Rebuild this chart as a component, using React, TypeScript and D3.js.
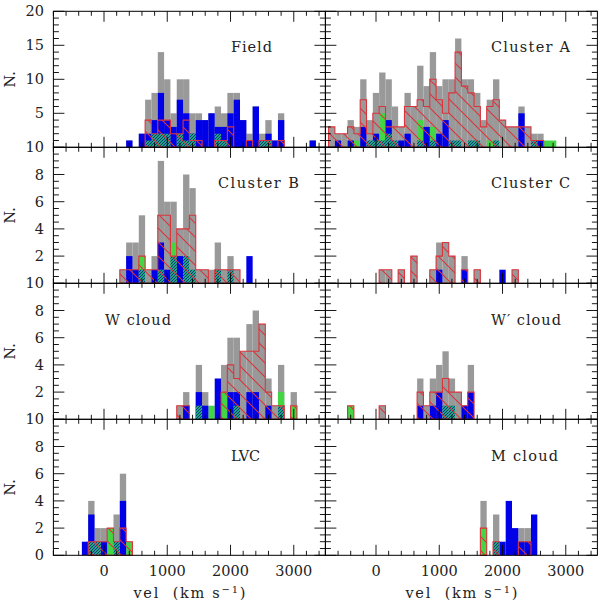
import React from "react";
import * as d3 from "d3";

type Bins = [number, number][];

const panelTitles = ["Field", "Cluster A", "Cluster B", "Cluster C", "W cloud", "W′ cloud", "LVC", "M cloud"];

const fieldGray: Bins = [[400,1],[600,2],[700,7],[800,8],[900,14],[1000,10],[1100,5],[1200,10],[1300,10],[1400,5],[1500,5],[1600,4],[1700,5],[1800,6],[1900,5],[2000,8],[2100,8],[2200,4],[2300,2],[2400,6],[2500,2],[2600,4],[2700,1],[2800,5],[3300,1]];
const fieldBlue: Bins = [[400,1],[600,2],[700,2],[800,4],[900,8],[1000,4],[1100,3],[1200,7],[1300,5],[1400,2],[1500,4],[1600,4],[1700,5],[1800,3],[1900,3],[2000,5],[2100,7],[2200,4],[2300,1],[2400,6],[2500,1],[2600,2],[2700,1],[2800,4],[3300,1]];
const fieldGreen: Bins = [[2100,1]];
const fieldTeal: Bins = [[700,1],[800,2],[900,2],[1000,2],[1200,2],[1300,1],[1400,2],[1800,2],[1900,1],[2500,1],[2600,1]];
const fieldRed: Bins = [[700,4],[800,2],[900,4],[1000,4],[1100,2],[1200,2],[1300,4],[1400,1],[1500,1],[1800,1],[1900,1],[2000,3],[2300,1],[2500,1],[2600,1],[2800,1]];

const clusterAGray: Bins = [[-700,3],[-600,2],[-500,2],[-400,4],[-300,3],[-200,10],[-100,4],[0,8],[100,11],[200,10],[300,6],[400,3],[500,8],[600,6],[700,12],[800,9],[900,14],[1000,9],[1100,10],[1200,10],[1300,16],[1400,10],[1500,10],[1600,8],[1700,4],[1800,7],[1900,10],[2000,4],[2100,3],[2200,3],[2300,6],[2400,3],[2500,2],[2600,2]];
const clusterABlue: Bins = [[-600,1],[-400,1],[-200,3],[0,2],[200,4],[400,1],[500,2],[800,3],[1000,2],[1100,4],[2300,5],[2600,1]];
const clusterAGreen: Bins = [[-300,1],[100,5],[700,4],[900,3],[1800,1],[2700,1],[2800,1]];
const clusterATeal: Bins = [[-100,1],[0,1],[100,1],[200,2],[300,1],[700,1],[900,1],[1200,1],[1300,1],[1500,1],[1600,1],[1900,1],[2500,1]];
const clusterARed: Bins = [[-700,3],[-600,2],[-500,2],[-400,3],[-300,2],[-200,7],[-100,2],[0,5],[100,6],[200,3],[300,3],[400,3],[500,6],[600,6],[700,7],[800,6],[900,10],[1000,7],[1100,5],[1200,8],[1300,14],[1400,9],[1500,8],[1600,6],[1700,3],[1800,6],[1900,7],[2000,4],[2100,3],[2200,3],[2300,3],[2400,3],[2500,1],[2600,1]];

const clusterBGray: Bins = [[300,1],[400,3],[500,3],[600,5],[700,1],[800,2],[900,9],[1000,6],[1100,6],[1200,4],[1300,8],[1400,7],[1500,1],[1600,1],[1700,1],[1800,3],[1900,1],[2000,2],[2100,1]];
const clusterBBlue: Bins = [[400,2],[500,1],[800,1],[900,3],[1000,1],[1200,2],[2300,2]];
const clusterBGreen: Bins = [[600,2],[1100,3]];
const clusterBTeal: Bins = [[600,1],[900,1],[1100,2],[1300,2],[1400,1],[1800,1],[2000,1]];
const clusterBRed: Bins = [[300,1],[400,1],[500,1],[600,2],[700,1],[800,1],[900,5],[1000,5],[1100,2],[1200,4],[1300,4],[1400,5],[1500,1],[1600,1],[1800,1],[1900,1],[2000,1],[2100,1]];

const clusterCGray: Bins = [[100,1],[200,1],[400,1],[600,2],[900,1],[1000,3],[1100,3],[1200,2],[1400,2],[1600,1],[2200,1]];
const clusterCBlue: Bins = [[1000,1],[1400,1],[2000,1]];
const clusterCGreen: Bins = [];
const clusterCTeal: Bins = [];
const clusterCRed: Bins = [[100,1],[200,1],[400,1],[600,2],[900,1],[1000,2],[1100,3],[1200,2],[1400,1],[1600,1],[2200,1]];

const wGray: Bins = [[1200,1],[1300,2],[1500,4],[1600,2],[1900,4],[2000,6],[2100,6],[2200,5],[2300,7],[2400,8],[2500,7],[2600,3],[2700,1],[2800,4],[3000,2]];
const wBlue: Bins = [[1300,1],[1500,2],[1600,1],[1800,3],[2000,2],[2100,2],[2300,2],[2400,2],[2600,1]];
const wGreen: Bins = [[1700,1],[1900,2],[2800,2],[3000,1]];
const wTeal: Bins = [[1500,1],[2100,1],[2800,1]];
const wRed: Bins = [[1200,1],[1300,1],[1900,2],[2000,4],[2100,3],[2200,5],[2300,5],[2400,5],[2500,7],[2600,2],[2700,1],[2800,1],[3000,1]];

const wPrimeGray: Bins = [[100,1],[700,3],[800,1],[900,3],[1000,4],[1100,5],[1200,3],[1300,2],[1400,1],[1500,4]];
const wPrimeBlue: Bins = [[700,1],[900,1],[1000,2],[1400,1],[1500,2]];
const wPrimeGreen: Bins = [[-400,1]];
const wPrimeTeal: Bins = [[1100,1],[1200,1]];
const wPrimeRed: Bins = [[-400,1],[100,1],[700,2],[800,1],[900,2],[1000,2],[1100,3],[1200,2],[1300,2],[1400,1],[1500,2]];

const lvcGray: Bins = [[-200,4],[-100,2],[0,2],[200,3],[300,6]];
const lvcBlue: Bins = [[-300,1],[-200,3],[0,1],[300,4]];
const lvcGreen: Bins = [[100,2],[400,1]];
const lvcTeal: Bins = [[-200,1],[-100,1],[200,1]];
const lvcRed: Bins = [[-200,1],[-100,1],[0,1],[100,2],[200,1],[300,2],[400,1]];

const mGray: Bins = [[1700,4],[1900,3],[2300,2],[2400,2]];
const mBlue: Bins = [[2000,1],[2100,4],[2200,2],[2300,1],[2400,1],[2500,3]];
const mGreen: Bins = [[1700,2]];
const mTeal: Bins = [[1900,1]];
const mRed: Bins = [[1700,2],[1900,1],[2300,1],[2400,1]];

const grays = [fieldGray, clusterAGray, clusterBGray, clusterCGray, wGray, wPrimeGray, lvcGray, mGray];
const blues = [fieldBlue, clusterABlue, clusterBBlue, clusterCBlue, wBlue, wPrimeBlue, lvcBlue, mBlue];
const greens = [fieldGreen, clusterAGreen, clusterBGreen, clusterCGreen, wGreen, wPrimeGreen, lvcGreen, mGreen];
const teals = [fieldTeal, clusterATeal, clusterBTeal, clusterCTeal, wTeal, wPrimeTeal, lvcTeal, mTeal];
const reds = [fieldRed, clusterARed, clusterBRed, clusterCRed, wRed, wPrimeRed, lvcRed, mRed];

const binWidth = 100;
const velDomain: [number, number] = [-800, 3500];
const colLeft = [53.4, 325.4];
const colWidth = 272;
const rowBottom = [147.3, 283.3, 419.3, 555.3];
const rowHeight = 136;
const titleBox: [number, number, number][] = [
  [231, 52, 41], [491, 52, 79], [218, 188, 81], [491, 188, 79],
  [105, 325, 66], [491, 325, 70], [231, 461, 29], [491, 461, 67],
];
const FONT = "'DejaVu Serif', serif";
const FS = 14.5;
const INK = "#222";

function Panel({ index }: { index: number }) {
  const col = index % 2;
  const row = Math.floor(index / 2);
  const left = colLeft[col];
  const bottom = rowBottom[row];
  const top = bottom - rowHeight;
  const right = left + colWidth;
  const x = d3.scaleLinear().domain(velDomain).range([left, right]);
  const y = d3.scaleLinear().domain([0, row === 0 ? 20 : 10]).range([bottom, top]);
  const yMajor = d3.range(0, (row === 0 ? 20 : 10) + 1, row === 0 ? 5 : 2);
  const yMinor = d3.range(0, (row === 0 ? 20 : 10) + 0.01, row === 0 ? 1 : 0.5);
  const xMinor = d3.range(-800, 3500, 200);
  const xMajor = xMinor.filter((v) => v % 1000 === 0);

  const rects = (bins: Bins, fill: string) =>
    bins.map(([c, n]) => (
      <rect key={c} x={x(c - binWidth / 2)} width={x(binWidth) - x(0)} y={y(n)} height={y(0) - y(n)} fill={fill} />
    ));

  const edgePoints = d3.range(-800, 3500, binWidth).flatMap((c) => {
    const found = reds[index].find((b) => b[0] === c);
    const n = found ? found[1] : 0;
    return [
      { v: c - binWidth / 2, n },
      { v: c + binWidth / 2, n },
    ];
  });
  const redArea = d3
    .area<{ v: number; n: number }>()
    .defined((d) => d.n > 0)
    .x((d) => x(d.v))
    .y0(y(0))
    .y1((d) => y(d.n));

  const [tx, ty, tw] = titleBox[index];
  return (
    <g>
      {rects(grays[index], "#999999")}
      {rects(greens[index], "#44d544")}
      {rects(blues[index], "#0000e8")}
      {rects(teals[index], "url(#tealHatch)")}
      <path d={redArea(edgePoints) ?? ""} fill="url(#redHatch)" stroke="#d9343c" strokeWidth={1.1} />
      <rect x={left} y={top} width={colWidth} height={rowHeight} fill="none" stroke="#000" strokeWidth={1} />
      {xMinor.map((v) => {
        const len = xMajor.includes(v) ? 10.5 : 4.5;
        return (
          <g key={v} stroke="#000" strokeWidth={0.9}>
            <line x1={x(v)} x2={x(v)} y1={bottom} y2={bottom - len} />
            <line x1={x(v)} x2={x(v)} y1={top} y2={top + len} />
          </g>
        );
      })}
      {yMinor.map((v) => {
        const len = yMajor.includes(v) ? 11 : 5.5;
        return (
          <g key={v} stroke="#000" strokeWidth={0.9}>
            <line x1={left} x2={left + len} y1={y(v)} y2={y(v)} />
            <line x1={right} x2={right - len} y1={y(v)} y2={y(v)} />
          </g>
        );
      })}
      <text x={tx} y={ty} textLength={tw} lengthAdjust="spacing" fontFamily={FONT} fontSize={FS} fontWeight={300} fill={INK}>
        {panelTitles[index]}
      </text>
      {col === 0 &&
        yMajor
          .filter((v) => v > 0 || row === 3)
          .filter((v) => !(row > 0 && v === 10))
          .map((v) => (
            <text key={v} x={44} y={y(v) + 5} textAnchor="end" fontFamily={FONT} fontSize={FS} fill={INK}>
              {v}
            </text>
          ))}
      {col === 0 && row < 3 && (
        <text x={44} y={bottom + 5} textAnchor="end" fontFamily={FONT} fontSize={FS} fill={INK}>
          10
        </text>
      )}
      {col === 0 && (
        <text
          transform={`translate(15,${bottom - rowHeight * 0.5}) rotate(-90)`}
          textAnchor="middle"
          fontFamily={FONT}
          fontSize={FS}
          fill={INK}
        >
          N.
        </text>
      )}
      {row === 3 &&
        xMajor.map((v) => (
          <text key={v} x={x(v)} y={575.7} textAnchor="middle" fontFamily={FONT} fontSize={FS} fill={INK}>
            {v}
          </text>
        ))}
      {row === 3 && (
        <text x={left + 80} y={597.5} textLength={112} lengthAdjust="spacing" fontFamily={FONT} fontSize={FS} fill={INK}>
          vel{"\u00a0\u00a0"}(km s
          <tspan fontSize={10} dy={-5}>−1</tspan>
          <tspan dy={5}>)</tspan>
        </text>
      )}
    </g>
  );
}

export default function App() {
  return (
    <svg width={600} height={603} style={{ position: "absolute", left: 0, top: 0, background: "#fff" }}>
      <defs>
        <pattern id="redHatch" patternUnits="userSpaceOnUse" width={14} height={14}>
          <path d="M-2,-2L16,16M-2,12L2,16M12,-2L16,2" stroke="#d9343c" strokeWidth={1.1} fill="none" />
        </pattern>
        <pattern id="tealHatch" patternUnits="userSpaceOnUse" width={3} height={3}>
          <rect width={3} height={3} fill="#1fa583" />
          <path d="M0,3L3,0M-1,1L1,-1M2,4L4,2" stroke="#063a78" strokeWidth={1} />
        </pattern>
      </defs>
      {panelTitles.map((_, i) => (
        <Panel key={i} index={i} />
      ))}
    </svg>
  );
}
